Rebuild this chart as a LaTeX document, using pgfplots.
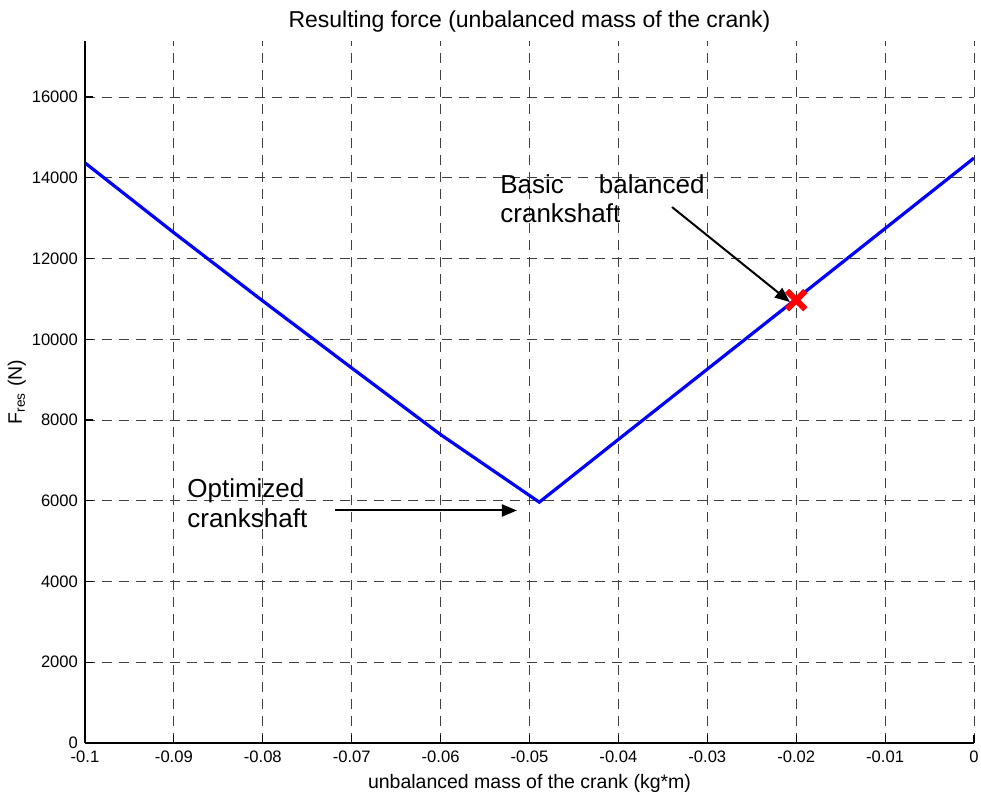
\documentclass[border=0pt]{standalone}
\usepackage{fontspec}
\setmainfont{Liberation Sans}
\usepackage{pgfplots}
\pgfplotsset{compat=1.18}
\usetikzlibrary{arrows.meta}
\begin{document}
\begin{tikzpicture}
\begin{axis}[
  width=444.5pt, height=351pt, scale only axis,
  xmin=-0.1, xmax=0, ymin=0, ymax=17390,
  axis lines*=left,
  axis line style={line width=0.75pt, black},
  tick align=inside,
  major tick length=4pt,
  tick style={line width=0.6pt, black},
  xtick={-0.1,-0.09,-0.08,-0.07,-0.06,-0.05,-0.04,-0.03,-0.02,-0.01,0},
  xticklabels={-0.1,-0.09,-0.08,-0.07,-0.06,-0.05,-0.04,-0.03,-0.02,-0.01,0},
  ytick={0,2000,4000,6000,8000,10000,12000,14000,16000},
  yticklabels={0,2000,4000,6000,8000,10000,12000,14000,16000},
  scaled y ticks=false,
  tick label style={font=\fontsize{8.3}{10}\selectfont},
  xticklabel style={anchor=base, yshift=-10pt},
  grid=major,
  major grid style={black!75, line width=0.5pt, dash pattern=on 5pt off 3.5pt},
  title={Resulting force (unbalanced mass of the crank)},
  title style={at={(axis description cs:0.5,1)}, anchor=base, yshift=0.85pt, font=\fontsize{11.5}{13}\selectfont},
  xlabel={unbalanced mass of the crank (kg*m)},
  xlabel style={at={(axis description cs:0.5,0)}, anchor=base, yshift=-23pt, font=\fontsize{9.75}{12}\selectfont},
  ylabel={F\textsubscript{res} (N)},
  ylabel style={at={(axis description cs:-0.0709,0.5)}, anchor=base, rotate=0, font=\fontsize{9.75}{12}\selectfont},
]
\coordinate (sw) at (rel axis cs:0,0);
\addplot[blue, line width=1.6pt] coordinates {
  (-0.1,14370) (-0.09,12640) (-0.08,10950) (-0.07,9290) (-0.06,7640)
  (-0.0489,5965)
  (-0.04,7520) (-0.03,9260) (-0.02,11000) (-0.01,12745) (0,14490)
};
\node[anchor=base west, inner sep=0, font=\fontsize{13}{15}\selectfont] at (axis cs:-0.08853,6093) {Optimized};
\node[anchor=base west, inner sep=0, font=\fontsize{13}{15}\selectfont] at (axis cs:-0.08853,5350) {crankshaft};
\node[anchor=base west, inner sep=0, font=\fontsize{13}{15}\selectfont] at (axis cs:-0.05332,13622) {Basic\hspace{17.5pt}balanced};
\node[anchor=base west, inner sep=0, font=\fontsize{13}{15}\selectfont] at (axis cs:-0.05332,12904) {crankshaft};
\draw[-{Triangle[length=7.5pt,width=6pt]}, line width=1pt, black] (axis cs:-0.07188,5760) -- (axis cs:-0.05141,5760);
\draw[-{Triangle[length=7.5pt,width=6pt]}, line width=1pt, black] (axis cs:-0.03397,13276) -- (axis cs:-0.02070,10923);
\addplot[only marks, mark=x, mark size=6.5pt, red, line width=3pt] coordinates {(-0.02,10970)};
\end{axis}
\pgfresetboundingbox
\path ([shift={(-42.5pt,-26pt)}]sw) rectangle ([shift={(448pt,371.5pt)}]sw);
\end{tikzpicture}
\end{document}
